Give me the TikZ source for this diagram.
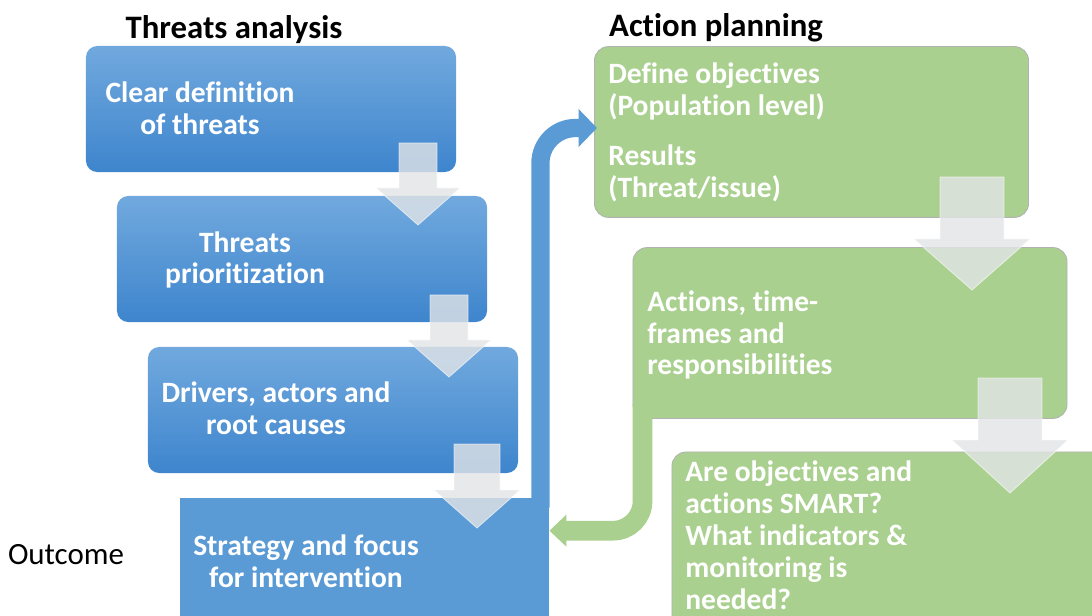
\documentclass[tikz,border=0pt]{standalone}
\usepackage{fontspec}
\setmainfont[Ligatures=NoCommon, RawFeature=-calt, RawFeature=-clig, RawFeature=-dlig]{Carlito}
\usetikzlibrary{arrows.meta,calc}

\definecolor{planblue}{HTML}{5B9BD5}
\definecolor{planbluetop}{HTML}{71A9DE}
\definecolor{planbluebot}{HTML}{3E85CD}
\definecolor{plangreen}{HTML}{A9D08E}
\definecolor{flowgray}{HTML}{E2E4E6}

\begin{document}
\begin{tikzpicture}[
        x=0.025cm, y=-0.025cm,
        font=\fontsize{21}{22.7}\selectfont,
        blue_box/.style={rectangle, rounded corners=8pt, top color=planbluetop, bottom color=planbluebot, minimum width=9.25cm, minimum height=3.15cm},
        green_box/.style={rectangle, rounded corners=10pt, fill=plangreen, draw=gray!60, line width=0.6pt, minimum width=10.85cm, minimum height=4.27cm},
        box_text/.style={text=white, font=\fontsize{21}{22.7}\selectfont\bfseries, inner sep=0pt},
        title_text/.style={font=\fontsize{23.3}{25}\selectfont\bfseries, inner sep=0pt},
        flow_arrow/.style={fill=flowgray, fill opacity=0.8, draw=white, draw opacity=0.6, line width=0.6pt},
        blue_link/.style={draw=planblue, line width=13pt, rounded corners=25pt, -{Triangle[width=26pt,length=13pt]}},
        green_link/.style={draw=plangreen, line width=14pt, rounded corners=21pt, -{Triangle[width=22pt,length=12pt]}}
    ]

    \clip (0,0) rectangle (1092,616);

    % --- Titles ---
    \node[title_text] (threats_title) at (234,30) {Threats analysis};
    \node[title_text] (action_title) at (716,28) {Action planning};
    \node[inner sep=0pt, font=\fontsize{22}{24}\selectfont] (outcome) at (66,555) {Outcome};

    % --- Threats analysis boxes ---
    \node[blue_box] (definition) at (271,109) {};
    \node[blue_box] (priority) at (302,259) {};
    \node[blue_box] (drivers) at (333,410) {};
    \node[rectangle, fill=planblue, minimum width=9.23cm, minimum height=3.6cm] (strategy) at (364.5,570) {};

    % --- Action planning boxes ---
    \node[green_box] (define) at (811.5,132) {};
    \node[green_box] (actions) at (850,333) {};
    \node[green_box, minimum width=10.95cm, minimum height=4.95cm] (smart) at (891,551) {};

    % --- Connectors ---
    \draw[blue_link] ($(strategy.north east)+(-9,10)$) |- ($(define.west)+(3,-4)$);
    \draw[green_link] ($(actions.south west)+(10,-15)$) |- ($(strategy.north east)+(0,33)$);

    % --- Block arrows between steps ---
    \draw[flow_arrow, shift={(418,143)}] (-19,0) -- (19,0) -- (19,45) -- (42,45) -- (0,82) -- (-42,45) -- (-19,45) -- cycle;
    \draw[flow_arrow, shift={(449,295)}] (-19,0) -- (19,0) -- (19,45) -- (42,45) -- (0,82) -- (-42,45) -- (-19,45) -- cycle;
    \draw[flow_arrow, shift={(477,444)}] (-23,0) -- (23,0) -- (23,46) -- (43,46) -- (0,84) -- (-43,46) -- (-23,46) -- cycle;
    \draw[flow_arrow, shift={(972,177)}] (-32,0) -- (32,0) -- (32,62) -- (58,62) -- (0,113) -- (-58,62) -- (-32,62) -- cycle;
    \draw[flow_arrow, shift={(1010,378)}] (-32,0) -- (32,0) -- (32,62) -- (58,62) -- (0,115) -- (-58,62) -- (-32,62) -- cycle;

    % --- Box texts ---
    \node[box_text, align=center] (definition_text) at (200,108) {Clear definition\\of threats};
    \node[box_text, align=center] (priority_text) at (245,260) {Threats\\prioritization};
    \node[box_text, align=center] (drivers_text) at (276,408) {Drivers, actors and\\root causes};
    \node[box_text, align=center] (strategy_text) at (306,561) {Strategy and focus\\for intervention};

    \node[box_text, align=left, anchor=west] (define_text) at (608,132) {Define objectives\\(Population level)\\[13pt]Results\\(Threat/issue)};
    \node[box_text, align=left, anchor=west] (actions_text) at (647,335) {Actions, time-\\frames and\\responsibilities};
    \node[box_text, align=left, anchor=west] (smart_text) at (685,535) {Are objectives and\\actions SMART?\\What indicators \&\\monitoring is\\needed?};

\end{tikzpicture}
\end{document}
